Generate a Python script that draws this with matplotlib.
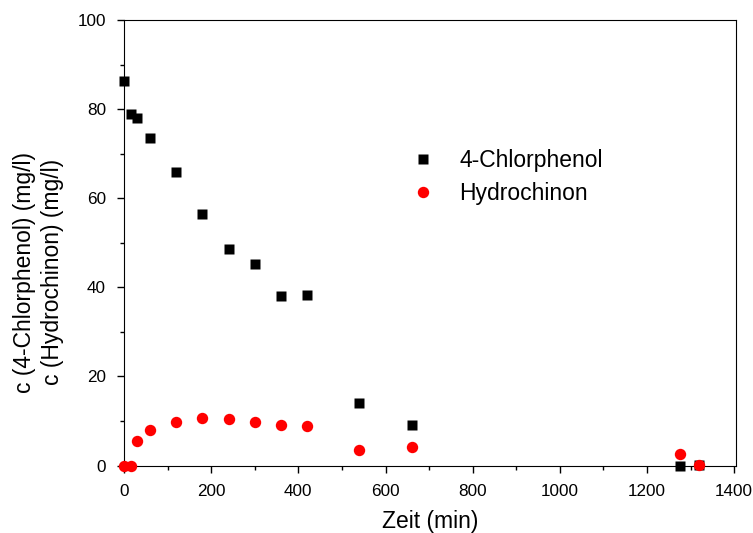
import numpy as np
import matplotlib.pyplot as plt
from matplotlib.ticker import MultipleLocator

plt.rcParams['font.family'] = ['Liberation Sans', 'DejaVu Sans']

zeit_cp = [0, 15, 30, 60, 120, 180, 240, 300, 360, 420, 540, 660, 1275, 1320]
chlorphenol = [86.3, 79.0, 77.9, 73.4, 65.8, 56.4, 48.5, 45.2, 38.1, 38.3, 14.0, 9.0, 0.0, 0.1]

zeit_hc = [0, 15, 30, 60, 120, 180, 240, 300, 360, 420, 540, 660, 1275, 1320]
hydrochinon = [0.0, 0.0, 5.4, 8.0, 9.8, 10.6, 10.4, 9.8, 9.0, 8.8, 3.5, 4.1, 2.5, 0.2]

fig = plt.figure(figsize=(7.53, 5.33), dpi=100)
ax = fig.add_axes([0.1647, 0.1266, 0.8127, 0.8359])

ax.plot(zeit_cp, chlorphenol, 's', color='black', ms=7.2, mec='none',
        label='4-Chlorphenol', clip_on=False, zorder=3)
ax.plot(zeit_hc, hydrochinon, 'o', color='red', ms=8.2, mec='none',
        label='Hydrochinon', clip_on=False, zorder=4)

ax.set_xlim(0, 1404)
ax.set_ylim(0, 100)
ax.xaxis.set_major_locator(MultipleLocator(200))
ax.xaxis.set_minor_locator(MultipleLocator(100))
ax.yaxis.set_major_locator(MultipleLocator(20))
ax.yaxis.set_minor_locator(MultipleLocator(10))
ax.tick_params(which='both', direction='out', top=False, right=False,
               labelsize=12.3, width=1, pad=8)
ax.tick_params(which='major', length=5)
ax.tick_params(which='minor', length=3)

ax.set_xlabel('Zeit (min)', fontsize=16.5, labelpad=8)
ax.set_ylabel('c (4-Chlorphenol) (mg/l)\nc (Hydrochinon) (mg/l)', fontsize=16.5,
              linespacing=1.3)
ax.yaxis.set_label_coords(-0.098, 0.434)

ax.legend(loc='center left', bbox_to_anchor=(0.417, 0.648), frameon=False,
          fontsize=16.5, handlelength=2.0, handletextpad=0.6, labelspacing=0.45)

plt.savefig('out.png', dpi=100)
